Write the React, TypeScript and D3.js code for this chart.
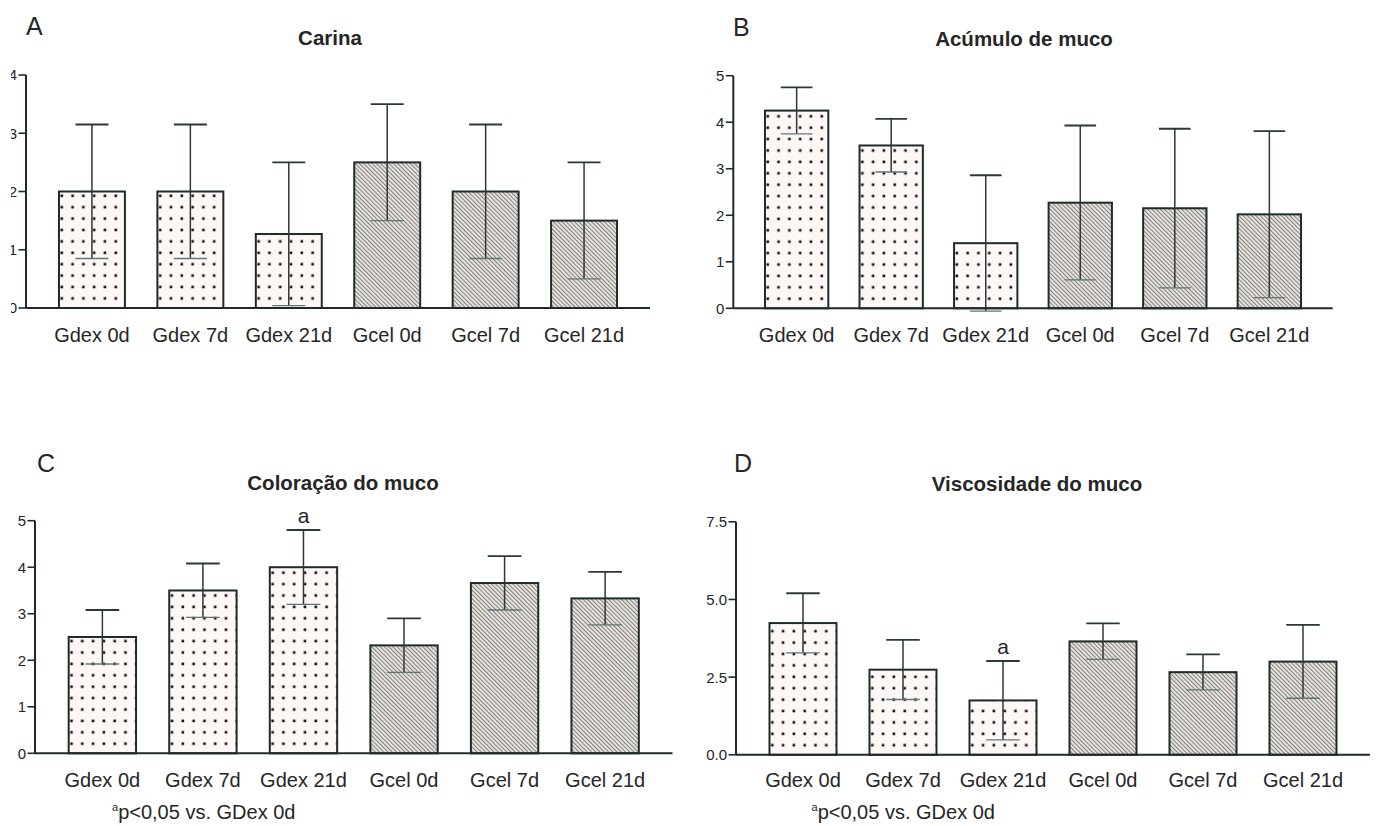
import React from "react";
import * as d3 from "d3";

// Groups on the x axis (shared by all four panels)
const groups = ["Gdex 0d", "Gdex 7d", "Gdex 21d", "Gcel 0d", "Gcel 7d", "Gcel 21d"];

// A – Carina (mean ± SD)
const carinaMean = [2.0, 2.0, 1.27, 2.5, 2.0, 1.5];
const carinaSd = [1.15, 1.15, 1.23, 1.0, 1.15, 1.0];
const carinaTicks = [0, 1, 2, 3, 4];

// B – Acúmulo de muco
const acumuloMean = [4.25, 3.5, 1.4, 2.27, 2.15, 2.02];
const acumuloSd = [0.5, 0.57, 1.46, 1.66, 1.71, 1.79];
const acumuloTicks = [0, 1, 2, 3, 4, 5];

// C – Coloração do muco
const coloracaoMean = [2.5, 3.5, 4.0, 2.32, 3.66, 3.33];
const coloracaoSd = [0.58, 0.58, 0.8, 0.58, 0.58, 0.57];
const coloracaoTicks = [0, 1, 2, 3, 4, 5];
const coloracaoSig = ["", "", "a", "", "", ""];

// D – Viscosidade do muco
const viscosidadeMean = [4.24, 2.74, 1.75, 3.65, 2.66, 3.0];
const viscosidadeSd = [0.96, 0.96, 1.27, 0.58, 0.57, 1.18];
const viscosidadeTicks = [0, 2.5, 5.0, 7.5];
const viscosidadeSig = ["", "", "a", "", "", ""];

const noSig = ["", "", "", "", "", ""];
const footnote = "p<0,05 vs. GDex 0d";

// Groups drawn with a dotted fill; the rest get diagonal hatching
const dottedGroups = ["Gdex 0d", "Gdex 7d", "Gdex 21d"];

const FONT = "'Liberation Sans', Arial, Helvetica, sans-serif";
const INK = "#1f2b2b";
const TEXT = "#262626";

type Panel = {
  id: string;
  letter: string;
  title: string;
  means: number[];
  sds: number[];
  ticks: number[];
  tickFmt: (v: number) => string;
  sig: string[];
  note: boolean;
  // layout
  x0: number;
  x1: number;
  yTop: number;
  yBottom: number;
  titleX: number;
  titleY: number;
  letterX: number;
  letterY: number;
  labelY: number;
  noteX: number;
  noteY: number;
  clipLeft?: number;
};

const panels: Panel[] = [
  {
    id: "A", letter: "A", title: "Carina",
    means: carinaMean, sds: carinaSd, ticks: carinaTicks,
    tickFmt: d3.format("d"), sig: noSig, note: false,
    x0: 26, x1: 650, yTop: 75, yBottom: 308,
    titleX: 330, titleY: 45, letterX: 26, letterY: 35,
    labelY: 341.5, noteX: 0, noteY: 0, clipLeft: 11,
  },
  {
    id: "B", letter: "B", title: "Acúmulo de muco",
    means: acumuloMean, sds: acumuloSd, ticks: acumuloTicks,
    tickFmt: d3.format("d"), sig: noSig, note: false,
    x0: 733.3, x1: 1332.7, yTop: 75.7, yBottom: 308.3,
    titleX: 1024, titleY: 46, letterX: 733, letterY: 36,
    labelY: 341.5, noteX: 0, noteY: 0,
  },
  {
    id: "C", letter: "C", title: "Coloração do muco",
    means: coloracaoMean, sds: coloracaoSd, ticks: coloracaoTicks,
    tickFmt: d3.format("d"), sig: coloracaoSig, note: true,
    x0: 35, x1: 672.5, yTop: 520.7, yBottom: 753.3,
    titleX: 343, titleY: 490, letterX: 37, letterY: 472,
    labelY: 787, noteX: 112, noteY: 819,
  },
  {
    id: "D", letter: "D", title: "Viscosidade do muco",
    means: viscosidadeMean, sds: viscosidadeSd, ticks: viscosidadeTicks,
    tickFmt: d3.format(".1f"), sig: viscosidadeSig, note: true,
    x0: 736, x1: 1370, yTop: 521.8, yBottom: 754.8,
    titleX: 1037, titleY: 491, letterX: 734, letterY: 472,
    labelY: 787, noteX: 811.5, noteY: 819,
  },
];

const DOT_DX = 10.8;
const DOT_DY = 11.4;

function BarPanel({ p }: { p: Panel }) {
  const x = d3
    .scaleBand<string>()
    .domain(groups)
    .range([p.x0, p.x1])
    .paddingInner(0.33)
    .paddingOuter(0.335);
  const yMax = p.ticks[p.ticks.length - 1];
  const y = d3.scaleLinear().domain([0, yMax]).range([p.yBottom, p.yTop]);
  const bw = x.bandwidth();
  const capHalf = bw / 4;

  return (
    <g>
      <defs>
        {groups.map((g, i) => {
          const left = x(g)!;
          return dottedGroups.includes(g) ? (
            <pattern
              key={g}
              id={`dots-${p.id}-${i}`}
              patternUnits="userSpaceOnUse"
              x={left}
              y={y(0)}
              width={DOT_DX}
              height={DOT_DY}
            >
              <rect width={DOT_DX} height={DOT_DY} fill="#fdf8f6" />
              <rect x={1.5} y={0.5} width={2.6} height={2.6} fill="#111111" />
            </pattern>
          ) : null;
        })}
        <pattern
          id={`hatch-${p.id}`}
          patternUnits="userSpaceOnUse"
          width={3}
          height={10}
          patternTransform="rotate(-45)"
        >
          <rect width={3} height={10} fill="#f2e4de" />
          <line x1={0.6} y1={0} x2={0.6} y2={10} stroke="#536a6a" strokeWidth={0.85} />
        </pattern>
        {p.clipLeft !== undefined && (
          <clipPath id={`clip-${p.id}`}>
            <rect x={p.clipLeft} y={0} width={2000} height={2000} />
          </clipPath>
        )}
      </defs>

      {/* panel letter and title */}
      <text x={p.letterX} y={p.letterY} fontFamily={FONT} fontSize={25} fill={TEXT}>
        {p.letter}
      </text>
      <text
        x={p.titleX}
        y={p.titleY}
        fontFamily={FONT}
        fontSize={20.5}
        fontWeight="bold"
        textAnchor="middle"
        fill={TEXT}
      >
        {p.title}
      </text>

      {/* bars */}
      {groups.map((g, i) => {
        const left = x(g)!;
        const top = y(p.means[i]);
        const fill = dottedGroups.includes(g) ? `url(#dots-${p.id}-${i})` : `url(#hatch-${p.id})`;
        return (
          <rect
            key={g}
            x={left}
            y={top}
            width={bw}
            height={y(0) - top}
            fill={fill}
            stroke={INK}
            strokeWidth={2}
          />
        );
      })}

      {/* error bars (mean ± SD) */}
      {groups.map((g, i) => {
        const cx = x(g)! + bw / 2;
        const hi = y(p.means[i] + p.sds[i]);
        const lo = y(p.means[i] - p.sds[i]);
        return (
          <g key={g}>
            <line x1={cx} x2={cx} y1={hi} y2={lo} stroke="#2c3838" strokeWidth={1.5} />
            <line x1={cx - capHalf} x2={cx + capHalf} y1={hi} y2={hi} stroke="#2c3838" strokeWidth={1.8} />
            <line x1={cx - capHalf} x2={cx + capHalf} y1={lo} y2={lo} stroke="#5f7676" strokeWidth={1.3} />
            {p.sig[i] && (
              <text
                x={cx}
                y={hi - 7}
                fontFamily={FONT}
                fontSize={21}
                textAnchor="middle"
                fill={TEXT}
              >
                {p.sig[i]}
              </text>
            )}
          </g>
        );
      })}

      {/* y axis */}
      <line x1={p.x0} x2={p.x0} y1={y(yMax)} y2={y(0)} stroke={INK} strokeWidth={2} />
      <g clipPath={p.clipLeft !== undefined ? `url(#clip-${p.id})` : undefined}>
        {p.ticks.map((t) => (
          <g key={t}>
            <line x1={p.x0 - 7.5} x2={p.x0} y1={y(t)} y2={y(t)} stroke={INK} strokeWidth={1.6} />
            <text
              x={p.x0 - 9}
              y={y(t)}
              dy="0.36em"
              fontFamily={FONT}
              fontSize={15}
              textAnchor="end"
              fill={TEXT}
            >
              {p.tickFmt(t)}
            </text>
          </g>
        ))}
      </g>

      {/* x axis */}
      <line x1={p.x0} x2={p.x1} y1={y(0)} y2={y(0)} stroke={INK} strokeWidth={2} />
      {groups.map((g) => (
        <text
          key={g}
          x={x(g)! + bw / 2}
          y={p.labelY}
          fontFamily={FONT}
          fontSize={20}
          textAnchor="middle"
          fill={TEXT}
        >
          {g}
        </text>
      ))}

      {p.note && (
        <text x={p.noteX} y={p.noteY} fontFamily={FONT} fontSize={20} fill={TEXT}>
          <tspan fontSize={11} dy={-8}>a</tspan>
          <tspan dy={8}>{footnote}</tspan>
        </text>
      )}
    </g>
  );
}

export default function App() {
  return (
    <svg
      width={1377}
      height={826}
      viewBox="0 0 1377 826"
      style={{ position: "absolute", left: 0, top: 0, background: "#ffffff" }}
    >
      <rect width={1377} height={826} fill="#ffffff" />
      {panels.map((p) => (
        <BarPanel key={p.id} p={p} />
      ))}
    </svg>
  );
}
